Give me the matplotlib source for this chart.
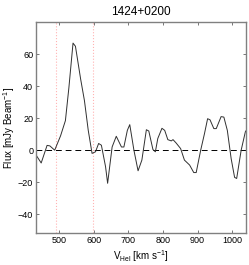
import numpy as np
import matplotlib.pyplot as plt

plt.rcParams['font.family'] = ['Liberation Sans', 'DejaVu Sans']
plt.rcParams['mathtext.fontset'] = 'custom'
plt.rcParams['mathtext.rm'] = 'Liberation Sans'
plt.rcParams['mathtext.it'] = 'Liberation Sans'

## Data ##
velocity = [433, 448, 465, 473, 487, 504, 518, 528, 540, 547, 562, 573, 584,
            595, 605, 614, 622, 634, 640, 653, 665, 680, 687, 697, 704, 716,
            728, 739, 752, 759, 771, 778, 785, 797, 805, 814, 824, 829, 838,
            851, 862, 877, 889, 896, 909, 920, 929, 936, 947, 954, 968, 976,
            986, 997, 1007, 1013, 1026, 1038, 1039]
flux = [-3, -8, 3, 2.7, 0, 9, 18.5, 39, 67, 65, 44.5, 31, 12.4,
        -2, -1, 4.2, 3.1, -10.3, -20.7, 2, 8.7, 2, 2, 12.4, 16, 0,
        -12.9, -6.2, 12.8, 12, 0.4, -1, 7.3, 13.7, 12.4, 6.6, 5.8, 6.6, 4.5,
        1, -6.2, -9.3, -14, -14, 0, 10.4, 19.7, 19, 13.5, 13.5, 21, 20.7,
        12.4, -5.2, -17, -17.7, 0, 11.4, 12]

vel_lines = [490, 599]   # dotted velocity range markers
title = '1424+0200'

fig = plt.figure(figsize=(2.49, 2.65), dpi=100)
ax = fig.add_axes([0.1446, 0.1196, 0.842, 0.7962])

for v in vel_lines:
    ax.axvline(v, color='#ff8080', linestyle=':', linewidth=0.8, alpha=0.6)
ax.axhline(0, color='black', linestyle=(0, (6, 4)), linewidth=0.7)
ax.plot(velocity, flux, color='#303030', linewidth=0.7)

ax.set_xlim(433, 1039)
ax.set_ylim(-52, 80)
ax.set_xticks([500, 600, 700, 800, 900, 1000])
ax.set_yticks([-40, -20, 0, 20, 40, 60])

for s in ax.spines.values():
    s.set_color('#808080')
    s.set_linewidth(1.0)
ax.tick_params(direction='in', top=True, right=True, length=2.5, width=0.6,
               color='#606060', labelsize=6.5, pad=2)

ax.set_title(title, fontsize=8.5, pad=5)
ax.set_xlabel('V$_{\\rm Hel}$ [km s$^{-1}$]', fontsize=7, labelpad=2)
ax.set_ylabel('Flux [mJy Beam$^{-1}$]', fontsize=7, labelpad=1)

fig.savefig('out.png', dpi=100)
